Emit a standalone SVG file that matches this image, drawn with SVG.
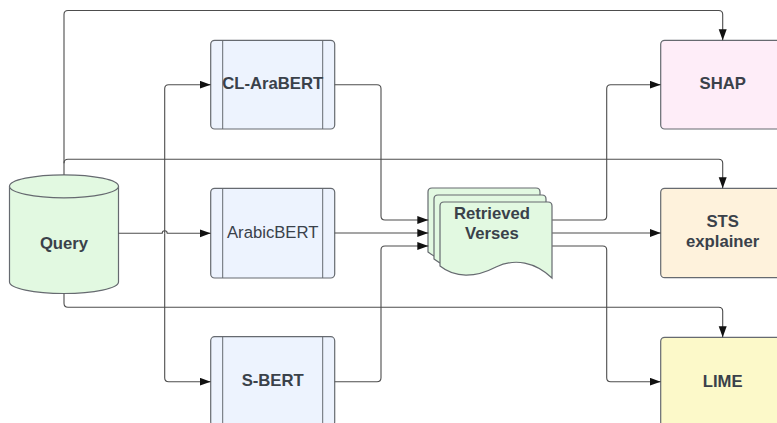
<svg xmlns="http://www.w3.org/2000/svg" width="777" height="423" viewBox="0 0 777 423">
  <defs>
    <marker id="arrow" markerUnits="userSpaceOnUse" markerWidth="12" markerHeight="9" refX="11" refY="4" orient="auto">
      <path d="M0,0 L11,4 L0,8 Z" fill="#111"/>
    </marker>
    <style>
      .model { fill: #edf3fe; stroke: #666a70; stroke-width: 1.2; }
      .rail { fill: none; stroke: #666a70; stroke-width: 1; }
      .doc { fill: #e2f9e1; stroke: #666a70; stroke-width: 1.2; }
      .lbl { font-family: "Liberation Sans", Arial, sans-serif; font-size: 16.7px; fill: #3a414a; text-anchor: middle; }
      .b { font-weight: bold; }
      .edge { fill: none; stroke: #4d4d4d; stroke-width: 1.1; }
      .arr { marker-end: url(#arrow); }
    </style>
  </defs>

  <rect width="777" height="423" fill="#ffffff"/>

  <!-- Query database -->
  <g id="query">
    <path d="M9.5,186.3 V282 A54.5,11.5 0 0 0 118.5,282 V186.3" fill="#e2f9e1" stroke="#666a70" stroke-width="1.2"/>
    <ellipse cx="64" cy="186.3" rx="54.5" ry="11.5" fill="#e2f9e1" stroke="#666a70" stroke-width="1.2"/>
    <text class="lbl b" x="64" y="249">Query</text>
  </g>

  <!-- Encoder models -->
  <g id="cl-arabert">
    <rect class="model" x="210.7" y="40.3" width="124" height="88.7" rx="4"/>
    <line class="rail" x1="222.7" y1="40.3" x2="222.7" y2="129"/>
    <line class="rail" x1="322.7" y1="40.3" x2="322.7" y2="129"/>
    <text class="lbl b" x="272.7" y="89.3">CL-AraBERT</text>
  </g>
  <g id="arabicbert">
    <rect class="model" x="210.7" y="188.3" width="124" height="89.7" rx="4"/>
    <line class="rail" x1="222.7" y1="188.3" x2="222.7" y2="278"/>
    <line class="rail" x1="322.7" y1="188.3" x2="322.7" y2="278"/>
    <text class="lbl" x="272.7" y="237.7">ArabicBERT</text>
  </g>
  <g id="s-bert">
    <rect class="model" x="210.7" y="336.7" width="124" height="89" rx="4"/>
    <line class="rail" x1="222.7" y1="336.7" x2="222.7" y2="425.7"/>
    <line class="rail" x1="322.7" y1="336.7" x2="322.7" y2="425.7"/>
    <text class="lbl b" x="272.7" y="386">S-BERT</text>
  </g>

  <!-- Retrieved verses: stacked documents -->
  <g id="retrieved-verses">
    <path class="doc" transform="translate(-12,-14)" d="M444,202 H548 Q552,202 552,206 V278 C535,262 515,258 496,267 C475,278 455,278 440,266 V206 Q440,202 444,202 Z"/>
    <path class="doc" transform="translate(-6,-7)" d="M444,202 H548 Q552,202 552,206 V278 C535,262 515,258 496,267 C475,278 455,278 440,266 V206 Q440,202 444,202 Z"/>
    <path class="doc" d="M444,202 H548 Q552,202 552,206 V278 C535,262 515,258 496,267 C475,278 455,278 440,266 V206 Q440,202 444,202 Z"/>
    <text class="lbl b" x="492" y="219.3">Retrieved</text>
    <text class="lbl b" x="492" y="239.3">Verses</text>
  </g>

  <!-- Explainers -->
  <g id="shap">
    <rect x="660.7" y="40.3" width="124" height="88.7" rx="4" fill="#feedf8" stroke="#666a70" stroke-width="1.2"/>
    <text class="lbl b" x="722.7" y="89.3">SHAP</text>
  </g>
  <g id="sts-explainer">
    <rect x="660.7" y="188.3" width="124" height="89.4" rx="4" fill="#fef2dc" stroke="#666a70" stroke-width="1.2"/>
    <text class="lbl b" x="722.7" y="226.7">STS</text>
    <text class="lbl b" x="722.7" y="247">explainer</text>
  </g>
  <g id="lime">
    <rect x="660.7" y="337.3" width="124" height="89" rx="4" fill="#fcf9c9" stroke="#666a70" stroke-width="1.2"/>
    <text class="lbl b" x="722.7" y="386.7">LIME</text>
  </g>

  <!-- Connectors -->
  <g id="connectors">
    <path class="edge arr" d="M64,174.8 V14.5 Q64,10.5 68,10.5 H718.7 Q722.7,10.5 722.7,14.5 V40.3"/>
    <path class="edge arr" d="M64,163.3 Q64,159.3 68,159.3 H718.7 Q722.7,159.3 722.7,163.3 V188.3"/>
    <path class="edge arr" d="M64,293.5 V303.3 Q64,307.3 68,307.3 H718.7 Q722.7,307.3 722.7,311.3 V337.3"/>

    <path class="edge arr" d="M118.5,233.3 H162.2 A2.5,2.5 0 0 1 167.2,233.3 H210.7"/>
    <path class="edge arr" d="M164.7,233.3 V88.7 Q164.7,84.7 168.7,84.7 H210.7"/>
    <path class="edge arr" d="M164.7,233.3 V377.7 Q164.7,381.7 168.7,381.7 H210.7"/>

    <path class="edge arr" d="M334.7,84.7 H377 Q381,84.7 381,88.7 V216 Q381,220 385,220 H428.3"/>
    <path class="edge arr" d="M334.7,233 H428.3"/>
    <path class="edge arr" d="M334.7,381.7 H377 Q381,381.7 381,377.7 V250 Q381,246 385,246 H428.3"/>

    <path class="edge arr" d="M552.3,220 H602.7 Q606.7,220 606.7,216 V88.7 Q606.7,84.7 610.7,84.7 H660.7"/>
    <path class="edge arr" d="M552.3,233 H660.7"/>
    <path class="edge arr" d="M552.3,246 H602.7 Q606.7,246 606.7,250 V377.7 Q606.7,381.7 610.7,381.7 H660.7"/>
  </g>
</svg>
